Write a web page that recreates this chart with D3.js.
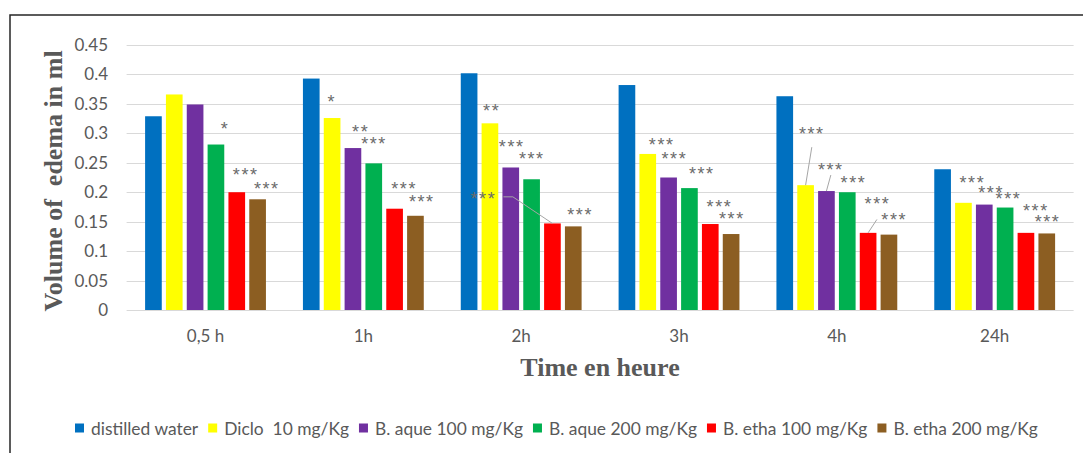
<!DOCTYPE html>
<html>
<head>
<meta charset="utf-8">
<script src="https://cdn.jsdelivr.net/npm/d3@7"></script>
<style>
  body { margin: 0; background: #fff; }
  text { white-space: pre; }
</style>
</head>
<body>
<div id="chart"></div>
<script>

const WIDTH = 1083;
const HEIGHT = 453;
const PLOT = {left: 126.6, right: 1073.6, top: 45, bottom: 310};

// data
const groups = ["0,5 h", "1h", "2h", "3h", "4h", "24h"];
const seriesNames = ["distilled water", "Diclo  10 mg/Kg", "B. aque 100 mg/Kg",
                     "B. aque 200 mg/Kg", "B. etha 100 mg/Kg", "B. etha 200 mg/Kg"];
const distilledWater = [0.329, 0.393, 0.402, 0.382, 0.363, 0.239];
const diclo10        = [0.366, 0.326, 0.317, 0.265, 0.212, 0.182];
const aque100        = [0.349, 0.275, 0.242, 0.225, 0.202, 0.179];
const aque200        = [0.281, 0.249, 0.222, 0.207, 0.200, 0.174];
const etha100        = [0.200, 0.172, 0.147, 0.146, 0.131, 0.131];
const etha200        = [0.188, 0.160, 0.142, 0.129, 0.128, 0.130];
const yTicks = [0, 0.05, 0.1, 0.15, 0.2, 0.25, 0.3, 0.35, 0.4, 0.45];

// significance marks (none for the control)
const sigWater   = ["", "", "", "", "", ""];
const sigDiclo   = ["", "*", "**", "***", "***", "***"];
const sigAque100 = ["", "**", "***", "***", "***", "***"];
const sigAque200 = ["*", "***", "***", "***", "***", "***"];
const sigEtha100 = ["***", "***", "***", "***", "***", "***"];
const sigEtha200 = ["***", "***", "***", "***", "***", "***"];

const COLORS = ["#0070C0", "#FFFF00", "#7030A0", "#00B050", "#FF0000", "#8C5E22"];

// where the labels were dragged to: [dx, dy] from the bar top centre
const LABEL_OFFSETS = [
  [[0,0],[0,0],[0,0],[0,0],[0,0],[0,0]],
  [[0,0],[-0.4,-20.6],[1.8,-17.3],[14,-13.3],[6.2,-56],[9,-24.4]],
  [[0,0],[7.8,-21],[1,-24.6],[5.8,-23.4],[4.4,-26],[6.9,-16.4]],
  [[9.1,-20.3],[0.3,-24.3],[0.2,-25],[12.4,-18.3],[6.2,-14],[3.4,-12.7]],
  [[9,-21.3],[9.5,-24.3],[-69,-29.3],[9.2,-22],[26.1,-17],[10,-26]],
  [[9.2,-15],[6.4,-18.3],[6.9,-16],[0.8,-20],[-11.4,-34.7],[0.8,-16.4]]
];
// leader lines: points relative to label centre, the line then runs to the bar top
const LEADERS = {
  "4-2": [[20, 2.7], [29.4, 2.7]],
  "1-4": [[0, 18]],
  "2-4": [[0, 10]],
  "4-4": [[-17.3, 3.6]]
};

const allSeries = [distilledWater, diclo10, aque100, aque200, etha100, etha200];
const allSig = [sigWater, sigDiclo, sigAque100, sigAque200, sigEtha100, sigEtha200];

const svg = d3.select("#chart")
  .append("svg")
    .attr("width", WIDTH)
    .attr("height", HEIGHT)
    .style("font-family", "Lato, 'Open Sans', sans-serif");

// chart border (top and left visible)
svg.append("path")
  .attr("d", `M10,${HEIGHT} L10,15 L${WIDTH},15`)
  .attr("fill", "none")
  .attr("stroke", "#262626")
  .attr("stroke-width", 1.5);

const Y = d3.scaleLinear().domain([0, 0.45]).range([PLOT.bottom, PLOT.top]);
const X0 = d3.scaleBand().domain(groups).range([PLOT.left, PLOT.right])
  .paddingInner(0.208).paddingOuter(0.104);
const X1 = d3.scaleBand().domain(d3.range(6)).range([0, X0.bandwidth()])
  .paddingInner(0.2).paddingOuter(0.1);

// gridlines
svg.append("g").selectAll("line")
  .data(yTicks)
  .enter().append("line")
    .attr("x1", PLOT.left).attr("x2", PLOT.right)
    .attr("y1", d => Math.round(Y(d)) + 0.5)
    .attr("y2", d => Math.round(Y(d)) + 0.5)
    .attr("stroke", "#d9d9d9")
    .attr("stroke-width", 1);

// y axis labels
const yAxis = svg.append("g")
  .attr("transform", `translate(${108},0)`)
  .call(d3.axisLeft(Y).tickValues(yTicks).tickSize(0).tickPadding(0)
          .tickFormat(d => d3.format("")(+d.toFixed(2))));
yAxis.select(".domain").remove();
yAxis.selectAll("text")
  .attr("fill", "#595959")
  .style("font-size", "17px")
  .style("font-family", "Lato, sans-serif");

// x axis labels
const xAxis = svg.append("g")
  .attr("transform", `translate(0,${PLOT.bottom})`)
  .call(d3.axisBottom(X0).tickSize(0).tickPadding(20));
xAxis.select(".domain").remove();
xAxis.selectAll("text")
  .attr("fill", "#595959")
  .style("font-size", "17px")
  .style("font-family", "Lato, sans-serif");

// bars
const barData = [];
allSeries.forEach((vals, s) => {
  vals.forEach((v, g) => barData.push({s: s, g: g, v: v, sig: allSig[s][g]}));
});

svg.append("g").selectAll("rect")
  .data(barData)
  .enter().append("rect")
    .attr("x", d => X0(groups[d.g]) + X1(d.s))
    .attr("y", d => Y(d.v))
    .attr("width", X1.bandwidth())
    .attr("height", d => Y(0) - Y(d.v))
    .attr("fill", d => COLORS[d.s]);

// significance labels + leader lines
const labelled = barData.filter(d => d.sig !== "");
const barTop = d => [X0(groups[d.g]) + X1(d.s) + X1.bandwidth() / 2, Y(d.v)];
const labelPos = d => {
  const t = barTop(d);
  const o = LABEL_OFFSETS[d.s][d.g];
  return [t[0] + o[0], t[1] + o[1]];
};

svg.append("g").selectAll("path")
  .data(labelled.filter(d => LEADERS[d.s + "-" + d.g]))
  .enter().append("path")
    .attr("d", d => {
      const c = labelPos(d);
      const pts = LEADERS[d.s + "-" + d.g].map(p => [c[0] + p[0], c[1] + p[1]]);
      pts.push(barTop(d));
      return d3.line()(pts);
    })
    .attr("fill", "none")
    .attr("stroke", "#a6a6a6")
    .attr("stroke-width", 1);

svg.append("g").selectAll("text")
  .data(labelled)
  .enter().append("text")
    .attr("x", d => labelPos(d)[0])
    .attr("y", d => labelPos(d)[1] + 10.5)
    .attr("text-anchor", "middle")
    .attr("fill", "#6b6b6b")
    .style("font-family", "'Liberation Sans', Arial, sans-serif")
    .style("font-size", "18px")
    .style("letter-spacing", "1.6px")
    .text(d => d.sig);

// axis titles
svg.append("text")
  .attr("transform", `translate(62,181) rotate(-90)`)
  .attr("text-anchor", "middle")
  .attr("fill", "#595959")
  .style("font-family", "'Liberation Serif', 'Times New Roman', serif")
  .style("font-weight", "bold")
  .style("font-size", "26px")
  .text("Volume of  edema in ml");

svg.append("text")
  .attr("x", 600)
  .attr("y", 376)
  .attr("text-anchor", "middle")
  .attr("fill", "#595959")
  .style("font-family", "'Liberation Serif', 'Times New Roman', serif")
  .style("font-weight", "bold")
  .style("font-size", "26px")
  .text("Time en heure");

// legend
const legend = svg.append("g").attr("transform", "translate(75,428)");
let lx = 0;
seriesNames.forEach((name, i) => {
  const item = legend.append("g").attr("transform", `translate(${lx},0)`);
  item.append("rect")
    .attr("x", 0).attr("y", -4.5)
    .attr("width", 9).attr("height", 9)
    .attr("fill", COLORS[i]);
  const t = item.append("text")
    .attr("x", 16).attr("y", 6.5)
    .attr("fill", "#595959")
    .style("font-size", "17.4px")
    .text(name);
  lx += 16 + t.node().getComputedTextLength() + 10;
});

</script>
</body>
</html>
